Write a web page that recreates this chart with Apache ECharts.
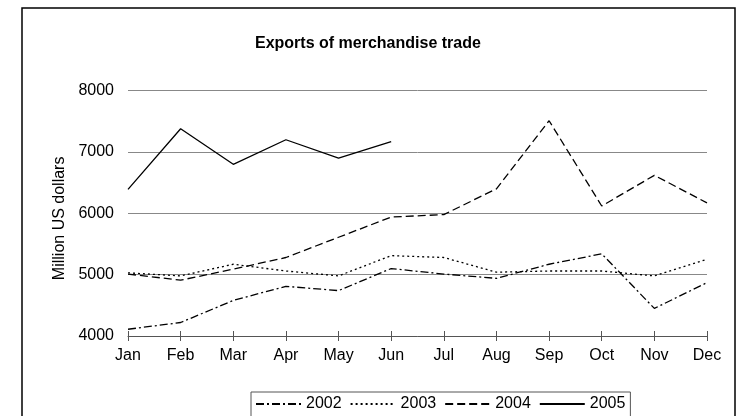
<!DOCTYPE html>
<html>
<head>
<meta charset="utf-8">
<script src="https://cdn.jsdelivr.net/npm/echarts@6/dist/echarts.min.js"></script>
<style>html,body{margin:0;padding:0;background:#fff;}#c{width:743px;height:416px;}</style>
</head>
<body>
<div id="c"></div>
<script>
var months = ['Jan','Feb','Mar','Apr','May','Jun','Jul','Aug','Sep','Oct','Nov','Dec'];
var y2002 = [4110, 4220, 4580, 4810, 4740, 5100, 5010, 4940, 5170, 5340, 4450, 4870];
var y2003 = [5030, 4980, 5170, 5060, 4980, 5310, 5280, 5040, 5060, 5060, 4980, 5250];
var y2004 = [5010, 4910, 5090, 5280, 5610, 5940, 5980, 6400, 7510, 6120, 6620, 6170];
var y2005 = [6390, 7380, 6800, 7200, 6900, 7170];
var yTicks = [4000, 5000, 6000, 7000, 8000];
var FONT = 'Liberation Sans, Arial, sans-serif';

var chart = echarts.init(document.getElementById('c'), null, {renderer: 'canvas'});
function ser(name, data, dash) {
  return {
    name: name, type: 'line', data: data, symbol: 'none', animation: false,
    lineStyle: {color: '#000', width: 1.3, type: dash},
    itemStyle: {color: '#000'}
  };
}
chart.setOption({
  animation: false,
  backgroundColor: '#fff',
  title: {
    text: 'Exports of merchandise trade', left: 250, top: 31,
    textStyle: {fontFamily: FONT, fontSize: 16, fontWeight: 'bold', color: '#000'}
  },
  graphic: [{
    type: 'rect', shape: {x: 22, y: 8, width: 713, height: 430},
    style: {fill: 'none', stroke: '#000', lineWidth: 1.5}, z: -1
  }],
  legend: {
    left: 251, top: 392,
    data: ['2002', '2003', '2004', '2005'],
    itemWidth: 45, itemHeight: 14, itemGap: 8,
    itemStyle: {opacity: 0, borderWidth: 0},
    borderColor: '#555', borderWidth: 1, padding: [4, 5, 12, 4],
    textStyle: {fontFamily: FONT, fontSize: 16, color: '#000'}
  },
  grid: {left: 128, right: 36, top: 90.7, bottom: 80, containLabel: false},
  xAxis: [{
    type: 'category', data: months, boundaryGap: false,
    axisLine: {lineStyle: {color: '#555', width: 1}},
    axisTick: {show: true, length: 5, lineStyle: {color: '#555'}},
    axisLabel: {fontFamily: FONT, fontSize: 16, color: '#000', margin: 12},
    splitLine: {show: false}
  }, {
    type: 'category', data: months, boundaryGap: false, position: 'bottom',
    axisLine: {show: false},
    axisTick: {show: true, inside: true, length: 5, lineStyle: {color: '#555'}},
    axisLabel: {show: false}, splitLine: {show: false}
  }],
  yAxis: {
    type: 'value', min: yTicks[0], max: yTicks[yTicks.length - 1], interval: 1000,
    name: 'Million US dollars', nameLocation: 'middle', nameGap: 60, nameRotate: 90,
    nameTextStyle: {fontFamily: FONT, fontSize: 16, color: '#000', padding: [0, 10, 0, 0]},
    axisLine: {show: false}, axisTick: {show: false},
    axisLabel: {fontFamily: FONT, fontSize: 16, color: '#000', margin: 14,
      formatter: function (v) { return String(v); }},
    splitLine: {lineStyle: {color: '#888', width: 1}}
  },
  series: [
    ser('2002', y2002, [8, 3, 2, 3]),
    ser('2003', y2003, [2, 3]),
    ser('2004', y2004, [8, 4]),
    ser('2005', y2005, 'solid')
  ]
});
</script>
</body>
</html>
